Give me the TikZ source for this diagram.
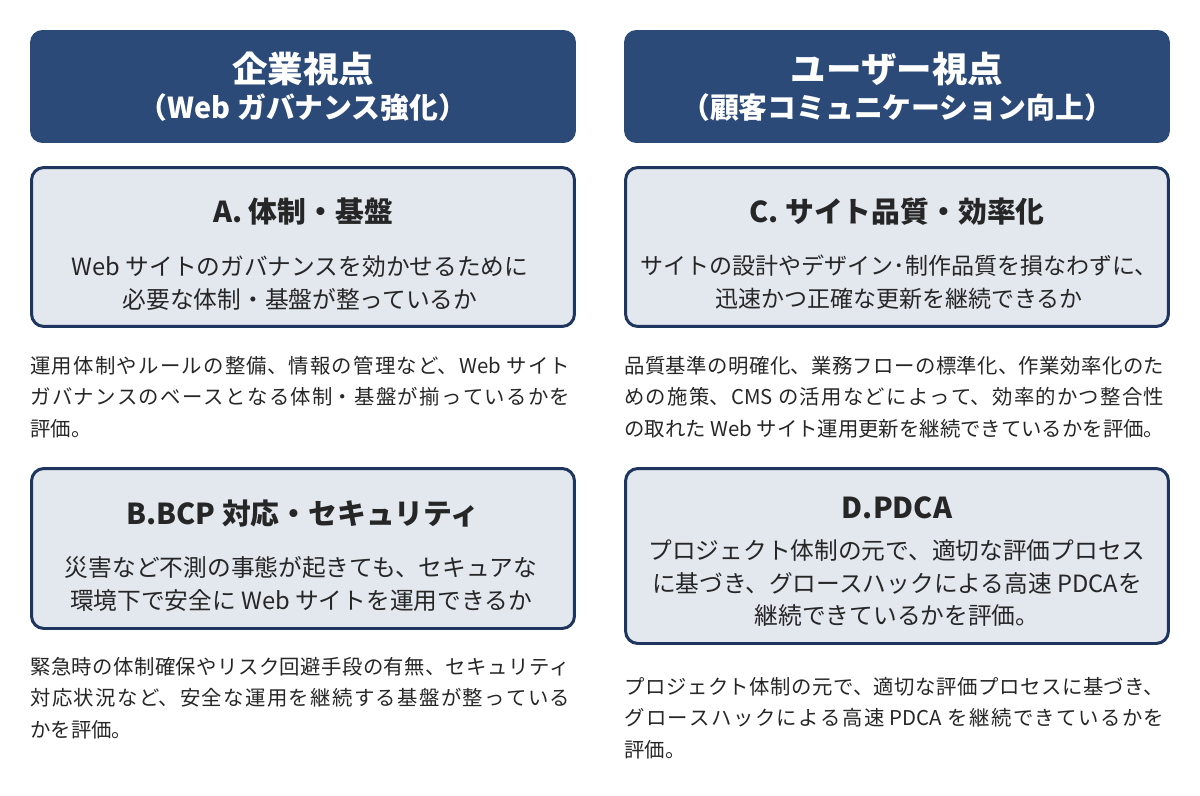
\documentclass[tikz,border=0pt]{standalone}
\usepackage{fontspec}
\setmainfont{Noto Sans CJK JP}
\XeTeXlinebreaklocale "ja"
\XeTeXlinebreakskip=0pt plus 2pt
\usetikzlibrary{positioning}
\definecolor{navy}{HTML}{2C4A78}
\definecolor{edge}{HTML}{1E3560}
\definecolor{pale}{HTML}{E3E7EE}
\definecolor{ink}{HTML}{262626}

\begin{document}
\begin{tikzpicture}[x=0.02cm,y=-0.02cm,
    head/.style={fill=navy,rounded corners=7pt,minimum width=10.92cm,minimum height=2.26cm,inner sep=0pt},
    card/.style={fill=pale,draw=edge,line width=1.7pt,rounded corners=7pt,minimum width=10.86cm,inner sep=0pt},
    htop/.style={text=white,font=\bfseries\fontsize{20.2}{24}\selectfont,inner sep=0pt},
    hsub/.style={text=white,font=\bfseries\fontsize{16.4}{20}\selectfont,inner sep=0pt},
    ttl/.style={text=ink,font=\bfseries\fontsize{16.4}{20}\selectfont,inner sep=0pt},
    body/.style={text=ink,align=center,font=\fontsize{13.5}{18.6}\selectfont,inner sep=0pt},
    note/.style={text=ink,anchor=west,text width=10.8cm,align=justify,font=\fontsize{11.6}{17.9}\selectfont,inner sep=0pt}]

  \useasboundingbox (0,0) rectangle (1200,795);

  \node [head] (hdrL) at (303,86.5) {};
  \node [head] (hdrR) at (897,86.5) {};
  \node [htop] (hdrLa) at (303,69) {企業視点};
  \node [hsub] (hdrLb) at (303,108) {（Web ガバナンス強化）};
  \node [htop] (hdrRa) at (897,69) {ユーザー視点};
  \node [hsub] (hdrRb) at (897,108) {（顧客コミュニケーション向上）};

  \node [card,minimum height=3.18cm] (cardA) at (303,247) {};
  \node [card,minimum height=3.18cm] (cardC) at (897,247) {};
  \node [card,minimum height=3.2cm] (cardB) at (303,548.5) {};
  \node [card,minimum height=3.5cm] (cardD) at (897,556) {};

  \node [ttl] (ttlA) at (303,212) {A. 体制・基盤};
  \node [body] (bodyA) at (300,283) {Web サイトのガバナンスを効かせるために\\必要な体制・基盤が整っているか};
  \node [ttl] (ttlC) at (897,212) {C. サイト品質・効率化};
  \node [body,font=\fontsize{13.1}{18.6}\selectfont] (bodyC) at (899,282) {サイトの設計やデザイン･制作品質を損なわずに、\\迅速かつ正確な更新を継続できるか};
  \node [ttl] (ttlB) at (303,514) {B.BCP 対応・セキュリティ};
  \node [body] (bodyB) at (301,584) {災害など不測の事態が起きても、セキュアな\\環境下で安全に Web サイトを運用できるか};
  \node [ttl] (ttlD) at (897,508) {D.PDCA};
  \node [body] (bodyD) at (897,583) {プロジェクト体制の元で、適切な評価プロセス\\に基づき、グロースハックによる高速 PDCAを\\継続できているかを評価。};

  \node [note] (noteA) at (30,397) {運用体制やルールの整備、情報の管理など、Web サイト\linebreak ガバナンスのベースとなる体制・基盤が揃っているかを\linebreak 評価。};
  \node [note] (noteC) at (624,397) {品質基準の明確化、業務フローの標準化、作業効率化のた\linebreak めの施策、CMS の活用などによって、効率的かつ整合性\linebreak の取れた Web サイト運用更新を継続できているかを評価。};
  \node [note] (noteB) at (30,698) {緊急時の体制確保やリスク回避手段の有無、セキュリティ\linebreak 対応状況など、安全な運用を継続する基盤が整っている\linebreak かを評価。};
  \node [note] (noteD) at (624,718) {プロジェクト体制の元で、適切な評価プロセスに基づき、\linebreak グロースハックによる高速 PDCA を継続できているかを\linebreak 評価。};

\end{tikzpicture}
\end{document}
